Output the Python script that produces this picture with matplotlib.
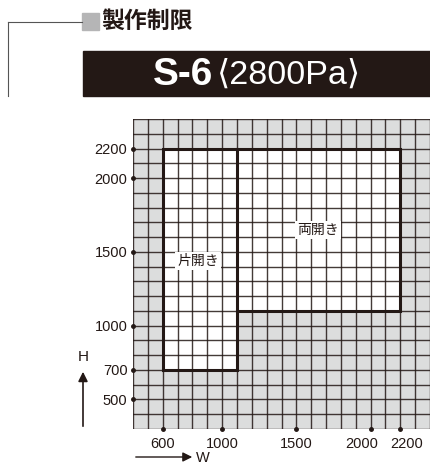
import numpy as np
import matplotlib.pyplot as plt
from matplotlib.patches import Rectangle
from matplotlib.transforms import ScaledTranslation

plt.rcParams['font.family'] = ['Noto Sans CJK JP', 'DejaVu Sans']

# data
x_range = [400, 2400]
y_range = [300, 2400]
x_ticks = [600, 1000, 1500, 2000, 2200]
y_ticks = [500, 700, 1000, 1500, 2000, 2200]
# allowed region outline (W, H)
region_x = [600, 1100, 1100, 2200, 2200, 600, 600]
region_y = [700, 700, 1100, 1100, 2200, 2200, 700]
divider_x = [1100, 1100]
divider_y = [1100, 2200]
labels = [("片開き", 840, 1440), ("両開き", 1645, 1650)]
title = "製作制限"
model = "S-6"
pressure = "⟨2800Pa⟩"

dark = '#231815'
latin = ['Liberation Sans', 'DejaVu Sans', 'Noto Sans CJK JP']
fig = plt.figure(figsize=(4.3, 4.66), dpi=100)

# header decorations in figure pixel coords
deco = fig.add_axes([0, 0, 1, 1])
deco.set_xlim(0, 430)
deco.set_ylim(466, 0)
deco.axis('off')
deco.plot([8, 82], [22, 22], color='#555555', lw=0.8)
deco.plot([8, 8], [22, 96], color='#555555', lw=0.8)
deco.add_patch(Rectangle((82, 13), 17, 17, color='#b5b5b6'))
deco.text(101, 21, title, fontsize=16.5, fontweight='bold', va='center', ha='left', color=dark)
deco.add_patch(Rectangle((83, 51), 347, 45, color=dark))
deco.text(153, 75, model, fontsize=28, fontweight='bold', va='center', ha='left',
          color='white', family=latin)
deco.text(217, 75, pressure, fontsize=24.5, va='center', ha='left', color='white',
          family=latin)

# H / W arrows
deco.annotate('', xy=(83, 369), xytext=(83, 429),
              arrowprops=dict(arrowstyle='-|>', color=dark, lw=1.2, mutation_scale=14))
deco.text(83, 357, 'H', fontsize=11, ha='center', va='center', color=dark, family=latin)
deco.annotate('', xy=(195, 457), xytext=(133, 457),
              arrowprops=dict(arrowstyle='-|>', color=dark, lw=1.0, mutation_scale=14))
deco.text(196, 458, 'W', fontsize=10.5, ha='left', va='center', color=dark, family=latin)

ax = fig.add_axes([133 / 430, 1 - 429 / 466, 1 - 133 / 430, (429 - 119) / 466])
ax.set_xlim(*x_range)
ax.set_ylim(*y_range)
ax.set_facecolor('#dcdddd')

ax.fill(region_x, region_y, color='white', zorder=1)
for v in np.arange(x_range[0], x_range[1] + 1, 100):
    ax.axvline(v, color=dark, lw=1.0, alpha=0.85, zorder=2)
for v in np.arange(y_range[0], y_range[1] + 1, 100):
    ax.axhline(v, color=dark, lw=1.0, alpha=0.85, zorder=2)
ax.plot(region_x, region_y, color=dark, lw=2.2, zorder=3, solid_joinstyle='miter')
ax.plot(divider_x, divider_y, color=dark, lw=2.2, zorder=3)

for txt, x, y in labels:
    ax.text(x, y, txt, fontsize=10, ha='center', va='center', color=dark, zorder=4,
            bbox=dict(facecolor='white', edgecolor='none', pad=1.5))

ax.set_xticks(x_ticks)
ax.set_yticks(y_ticks)
ax.tick_params(axis='both', length=0, labelsize=10.5, colors=dark)
ax.tick_params(axis='x', pad=6)
ax.tick_params(axis='y', pad=4)
for lbl in ax.get_xticklabels() + ax.get_yticklabels():
    lbl.set_family(latin)
# nudge the two crowded right-hand labels apart
xl = ax.get_xticklabels()
xl[3].set_transform(xl[3].get_transform() + ScaledTranslation(-0.09, 0, fig.dpi_scale_trans))
xl[4].set_transform(xl[4].get_transform() + ScaledTranslation(0.06, 0, fig.dpi_scale_trans))
ax.plot(x_ticks, [y_range[0]] * len(x_ticks), 'o', ms=2.5, color=dark, clip_on=False, zorder=5)
ax.plot([x_range[0]] * len(y_ticks), y_ticks, 'o', ms=2.5, color=dark, clip_on=False, zorder=5)
for s in ax.spines.values():
    s.set_visible(False)

fig.savefig('out.png', dpi=100)
